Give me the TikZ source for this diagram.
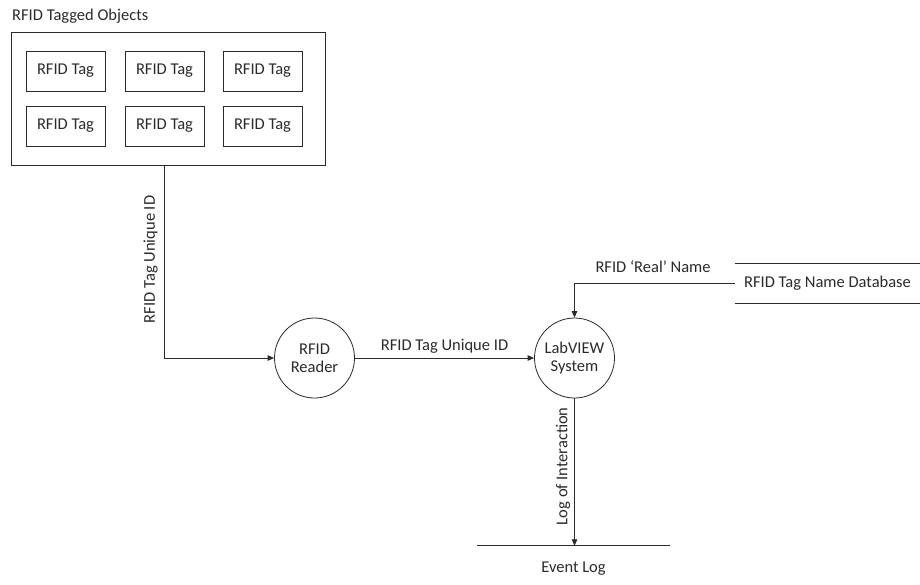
\documentclass[tikz,border=0pt]{standalone}
\usepackage{fontspec}
\setmainfont{Carlito}
\usetikzlibrary{arrows.meta}
\definecolor{ink}{HTML}{2A2A2A}
\begin{document}
\begin{tikzpicture}[x=1pt,y=-1pt,
  every node/.style={font=\fontsize{16.5}{19}\selectfont, text=ink},
  line/.style={draw=ink, line width=0.8pt},
  flow/.style={line, -{Triangle[length=6.5pt,width=5.5pt]}},
  tagbox/.style={draw=ink, line width=0.8pt, minimum width=79pt, minimum height=40pt, inner sep=0pt},
  proc/.style={draw=ink, line width=0.8pt, circle, minimum size=80pt, inner sep=0pt, align=center},
  lbl/.style={inner sep=1pt}
]
\useasboundingbox (0,0) rectangle (920,584);

% tagged objects
\node[anchor=west, lbl] (title) at (11,16) {RFID Tagged Objects};
\node[draw=ink, line width=0.8pt, minimum width=314pt, minimum height=133pt, inner sep=0pt] (objs) at (168,98.5) {};
\node[tagbox] (t1) at (65.5,71) {RFID Tag};
\node[tagbox] (t2) at (164.5,71) {RFID Tag};
\node[tagbox] (t3) at (262.5,71) {RFID Tag};
\node[tagbox] (t4) at (65.5,126) {RFID Tag};
\node[tagbox] (t5) at (164.5,126) {RFID Tag};
\node[tagbox] (t6) at (262.5,126) {RFID Tag};

% processes
\node[proc] (reader) at (314.5,358) {RFID\\[-1pt]Reader};
\node[proc] (lab) at (574.5,358) {LabVIEW\\[-1pt]System};

% data stores
\node[minimum width=185pt, minimum height=39pt, inner sep=0pt] (db) at (827.5,283.5) {RFID Tag Name Database};
\draw[line] (db.north west) -- (db.north east);
\draw[line] (db.south west) -- (db.south east);
\node[minimum width=193pt, minimum height=46pt, inner sep=0pt] (evt) at (573.5,569) {Event Log};
\draw[line] (evt.north west) -- (evt.north east);

% flows
\draw[flow] ([xshift=-4pt]objs.south) |- (reader.west)
  node[pos=0.244, rotate=90, above=5pt, lbl] (l1) {RFID Tag Unique ID};
\draw[flow] (reader.east) -- (lab.west)
  node[midway, above=3pt, lbl] (l2) {RFID Tag Unique ID};
\draw[flow] (db.west) -| (lab.north)
  node[pos=0.255, above=9pt, lbl] (l3) {RFID ‘Real’ Name};
\draw[flow] (lab.south) -- (lab.south |- evt.north)
  node[pos=0.46, rotate=90, above=3pt, lbl] (l4) {Log of Interaction};
\end{tikzpicture}
\end{document}
